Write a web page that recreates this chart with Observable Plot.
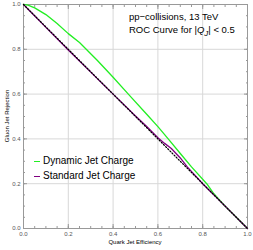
<!DOCTYPE html>
<html><head><meta charset="utf-8">
<script src="https://cdn.jsdelivr.net/npm/d3@7"></script>
<script src="https://cdn.jsdelivr.net/npm/@observablehq/plot@0.6"></script>
<style>
body{margin:0;background:#fff;font-family:"Liberation Sans",Arial,sans-serif;}
#wrap{position:relative;width:253px;height:250px;}
.t{position:absolute;white-space:nowrap;color:#000;}
</style></head><body><div id="wrap"></div>
<script>
// Dynamic Jet Charge ROC curve
const dynX = [0, 0.02, 0.05, 0.1, 0.15, 0.2, 0.25, 0.28, 0.33, 0.4, 0.468, 0.55, 0.6, 0.646, 0.7, 0.75, 0.818, 0.85, 0.9, 0.95, 1];
const dynY = [1, 0.997, 0.985, 0.955, 0.915, 0.87, 0.83, 0.80, 0.75, 0.675, 0.6, 0.51, 0.455, 0.4, 0.335, 0.275, 0.2, 0.155, 0.1, 0.05, 0];
// Standard Jet Charge ROC curve
const stdX = [0, 0.1, 0.2, 0.3, 0.4, 0.5, 0.55, 0.6, 0.63, 0.66, 0.7, 0.73, 0.8, 0.9, 1];
const stdY = [1, 0.898, 0.797, 0.698, 0.6, 0.502, 0.455, 0.405, 0.38, 0.357, 0.315, 0.276, 0.2, 0.1, 0];
// random classifier diagonal
const diagX = [0, 1];
const diagY = [1, 0];
const majorTicks = [0, 0.2, 0.4, 0.6, 0.8, 1.0];
const minorTicks = d3.range(0, 21).map(i => i / 20);
const gridTicks = [0.2, 0.4, 0.6, 0.8];
const seriesNames = ["Dynamic Jet Charge", "Standard Jet Charge"];
const seriesColors = ["#22ee22", "#800080"];
const titleLines = ["pp\u2212collisions, 13 TeV", "ROC Curve for |<i>Q<sub>J</sub></i>| < 0.5"];

const dyn = dynX.map((x, i) => ({x, y: dynY[i]}));
const std = stdX.map((x, i) => ({x, y: stdY[i]}));
const diag = diagX.map((x, i) => ({x, y: diagY[i]}));
const fmt = d => d.toFixed(1);
const blank = () => "";

const chart = Plot.plot({
  width: 253, height: 250,
  marginLeft: 23, marginRight: 6, marginTop: 4, marginBottom: 22,
  x: {domain: [0, 1]},
  y: {domain: [0, 1]},
  style: {fontFamily: "Liberation Sans, Arial, sans-serif", fontSize: "6px", color: "#555"},
  marks: [
    Plot.gridX(gridTicks, {stroke: "#d8d8d8", strokeOpacity: 1}),
    Plot.gridY(gridTicks, {stroke: "#d8d8d8", strokeOpacity: 1}),
    Plot.axisX(majorTicks, {anchor: "bottom", tickSize: 0, tickPadding: 3, tickFormat: fmt, label: null, fill: "#555"}),
    Plot.axisY(majorTicks, {anchor: "left", tickSize: 0, tickPadding: 3, tickFormat: fmt, label: null, fill: "#555"}),
    Plot.axisX(majorTicks, {anchor: "bottom", tickSize: -4, tickFormat: blank, label: null, stroke: "#999"}),
    Plot.axisX(majorTicks, {anchor: "top", tickSize: -4, tickFormat: blank, label: null, stroke: "#999"}),
    Plot.axisY(majorTicks, {anchor: "left", tickSize: -4, tickFormat: blank, label: null, stroke: "#999"}),
    Plot.axisY(majorTicks, {anchor: "right", tickSize: -4, tickFormat: blank, label: null, stroke: "#999"}),
    Plot.axisX(minorTicks, {anchor: "bottom", tickSize: -2, tickFormat: blank, label: null, stroke: "#999"}),
    Plot.axisX(minorTicks, {anchor: "top", tickSize: -2, tickFormat: blank, label: null, stroke: "#999"}),
    Plot.axisY(minorTicks, {anchor: "left", tickSize: -2, tickFormat: blank, label: null, stroke: "#999"}),
    Plot.axisY(minorTicks, {anchor: "right", tickSize: -2, tickFormat: blank, label: null, stroke: "#999"}),
    Plot.frame({stroke: "#999"}),
    Plot.line(dyn, {x: "x", y: "y", stroke: seriesColors[0], strokeWidth: 1.3}),
    Plot.line(std, {x: "x", y: "y", stroke: seriesColors[1], strokeWidth: 1.3}),
    Plot.line(diag, {x: "x", y: "y", stroke: "#000", strokeWidth: 1.2, strokeDasharray: "1.2,1.8"})
  ]
});
const wrap = document.getElementById("wrap");
wrap.appendChild(chart);

function addText(html, css) {
  const d = document.createElement("div");
  d.className = "t";
  d.innerHTML = html;
  Object.assign(d.style, css);
  wrap.appendChild(d);
  return d;
}
addText(titleLines[0], {left: "129px", top: "11px", fontSize: "9.5px"});
addText(titleLines[1], {left: "129px", top: "24px", fontSize: "9.5px"});
seriesNames.forEach((n, i) => {
  addText(`<span style="display:inline-block;width:6px;height:0;border-top:1.5px solid ${seriesColors[i]};vertical-align:middle;margin-right:3px;"></span>${n}`,
    {left: "34px", top: (155 + i * 15) + "px", fontSize: "10px"});
});
addText("Quark Jet Efficiency", {left: "0px", width: "270px", textAlign: "center", top: "239px", fontSize: "6px"});
addText("Gluon Jet Rejection", {left: "-28px", top: "113px", width: "70px", textAlign: "center", fontSize: "6px", transform: "rotate(-90deg)"});
</script></body></html>
